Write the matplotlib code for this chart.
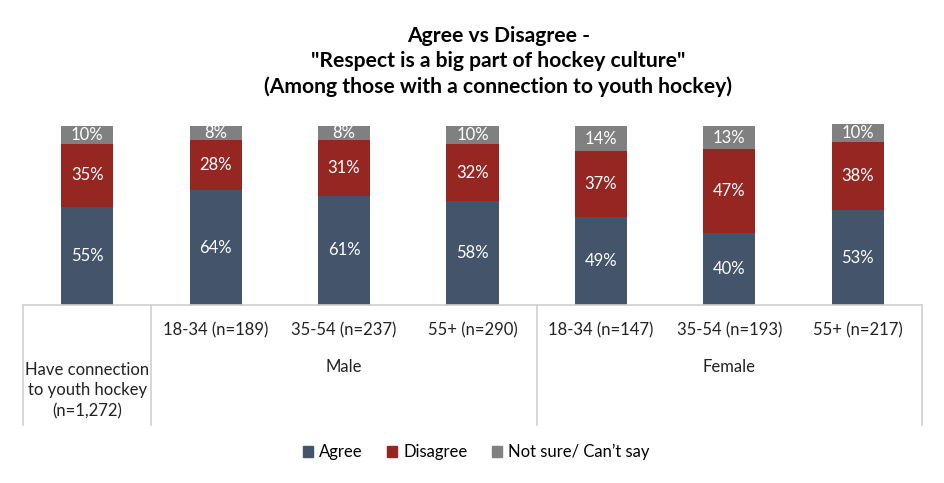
import matplotlib.pyplot as plt
from matplotlib.transforms import blended_transform_factory
from matplotlib.patches import Patch

plt.rcParams['font.family'] = ['Lato', 'DejaVu Sans']

# Data
ages = ["", "18-34 (n=189)", "35-54 (n=237)", "55+ (n=290)",
        "18-34 (n=147)", "35-54 (n=193)", "55+ (n=217)"]
groups = ["Have connection\nto youth hockey\n(n=1,272)", "Male", "Female"]
agree = [55, 64, 61, 58, 49, 40, 53]
disagree = [35, 28, 31, 32, 37, 47, 38]
not_sure = [10, 8, 8, 10, 14, 13, 10]

c_agree = '#44546A'
c_dis = '#962622'
c_ns = '#808080'
c_line = '#D0D0D0'
fs = 12

fig = plt.figure(figsize=(9.45, 4.83), dpi=100)
ax = fig.add_axes([23 / 945, 178 / 483, 899 / 945, 179 / 483])

x = list(range(len(agree)))
w = 0.405
bottom2 = [a + d for a, d in zip(agree, disagree)]
ax.bar(x, agree, w, color=c_agree, clip_on=False)
ax.bar(x, disagree, w, bottom=agree, color=c_dis, clip_on=False)
ax.bar(x, not_sure, w, bottom=bottom2, color=c_ns, clip_on=False)

for i in x:
    ax.text(i, agree[i] / 2, f"{agree[i]}%", ha='center', va='center', color='white', fontsize=fs)
    ax.text(i, agree[i] + disagree[i] / 2, f"{disagree[i]}%", ha='center', va='center', color='white', fontsize=fs)
    ax.text(i, bottom2[i] + not_sure[i] / 2, f"{not_sure[i]}%", ha='center', va='center', color='white', fontsize=fs)

ax.set_xlim(-0.5, 6.5)
ax.set_ylim(0, 100)
ax.axis('off')

# Category axis with group lines
tr = blended_transform_factory(ax.transData, ax.transAxes)
ax.plot([-0.5, 6.5], [0, 0], color=c_line, lw=1.2, transform=tr, clip_on=False)
for xs in [-0.5, 0.5, 3.5, 6.5]:
    ax.plot([xs, xs], [0, -0.67], color=c_line, lw=1.2, transform=tr, clip_on=False)

for i, lab in enumerate(ages):
    ax.text(i, -0.14, lab, ha='center', va='center', fontsize=fs, color='#222222', transform=tr)
ax.text(0, -0.478, groups[0], ha='center', va='center', fontsize=fs, color='#222222',
        transform=tr, linespacing=1.38)
ax.text(2, -0.346, groups[1], ha='center', va='center', fontsize=fs, color='#222222', transform=tr)
ax.text(5, -0.346, groups[2], ha='center', va='center', fontsize=fs, color='#222222', transform=tr)

fig.text(0.5275, 0.872, 'Agree vs Disagree -\n"Respect is a big part of hockey culture"\n(Among those with a connection to youth hockey)',
         ha='center', va='center', fontsize=15.2, fontweight='bold', linespacing=1.33)

handles = [Patch(color=c_agree, label='Agree'),
           Patch(color=c_dis, label='Disagree'),
           Patch(color=c_ns, label='Not sure/ Can\u2019t say')]
fig.legend(handles=handles, loc='center', bbox_to_anchor=(0.504, 0.064), ncol=3, frameon=False,
           fontsize=fs, handlelength=0.6, handleheight=0.6, handletextpad=0.35, columnspacing=1.5)

fig.savefig('out.png', dpi=100)
